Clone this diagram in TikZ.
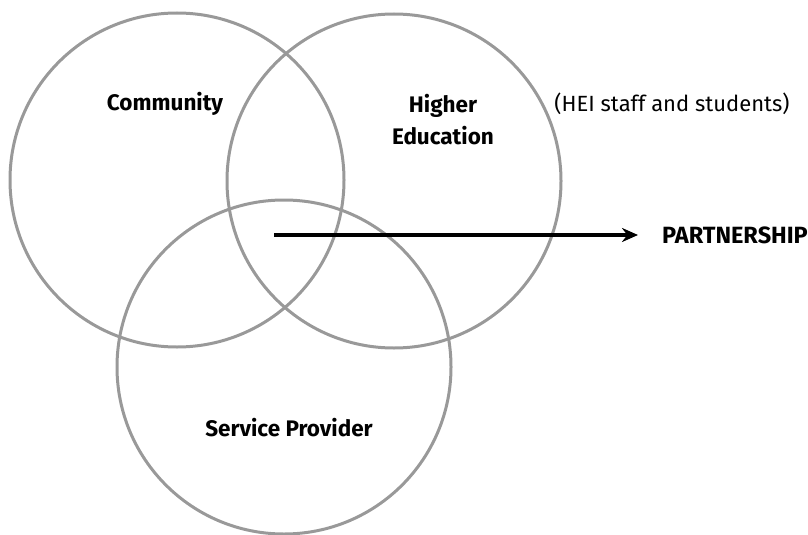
\documentclass[tikz,border=0pt]{standalone}
\usepackage{fontspec}
\setmainfont{Fira Sans}
\usepackage{tikz}
\usetikzlibrary{positioning}
\usetikzlibrary{arrows.meta}
\tikzset{
ring/.style={
  circle,
  inner sep=0pt,
  minimum size=334pt,
  draw=black!40,
  line width=3pt
  },
lbl/.style={
  font=\fontsize{22.5}{32}\selectfont\bfseries,
  align=center,
  inner sep=2pt
  }
}

\begin{document}
\begin{tikzpicture}[x=1pt,y=-1pt]
            \useasboundingbox (0,0) rectangle (808,535);
            \node[ring] (comm) at (177,180) {};
            \node[ring] (hied) at (394,181) {};
            \node[ring] (serv) at (284,367) {};
            \node[lbl] (commtxt) at (165,104) {Community};
            \node[lbl] (hiedtxt) at (443,120) {Higher\\Education};
            \node[lbl] (servtxt) at (289,428) {Service Provider};
            \node[lbl,font=\fontsize{22}{32}\selectfont] (hei) at (672,104) {(HEI staff and students)};
            \node[lbl,anchor=east,inner sep=0pt,font=\fontsize{23.5}{32}\selectfont\bfseries] (partner) at (808,235) {PARTNERSHIP};
            \coordinate (mid) at (274,235);
            \draw[-{Stealth[length=16pt,width=14pt]},line width=3.6pt,shorten >=24pt] (mid) -- (partner.west);
        \end{tikzpicture}
\end{document}
